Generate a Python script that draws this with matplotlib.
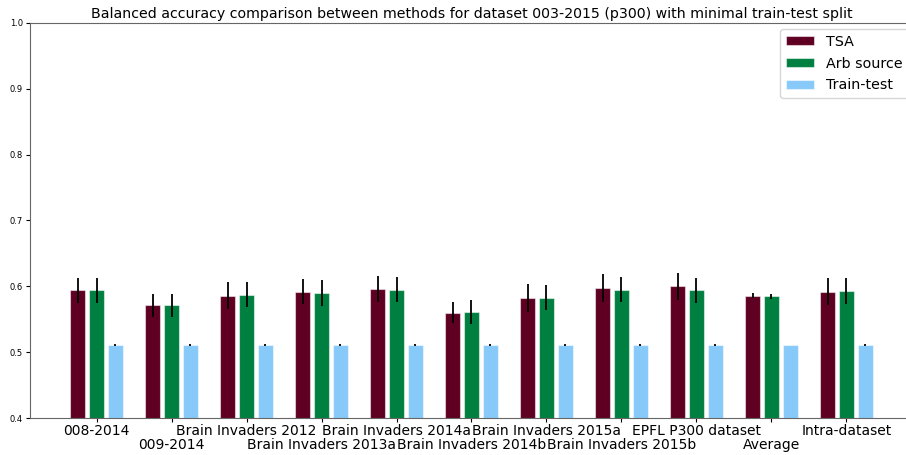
import matplotlib
matplotlib.use("Agg")
import matplotlib.pyplot as plt
import numpy as np

categories = ["008-2014", "009-2014", "Brain Invaders 2012", "Brain Invaders 2013a",
              "Brain Invaders 2014a", "Brain Invaders 2014b", "Brain Invaders 2015a",
              "Brain Invaders 2015b", "EPFL P300 dataset", "Average", "Intra-dataset"]
series_names = ["TSA", "Arb source", "Train-test"]
tsa = [0.594, 0.571, 0.586, 0.592, 0.596, 0.560, 0.582, 0.597, 0.600, 0.586, 0.592]
tsa_err = [0.019, 0.018, 0.020, 0.019, 0.020, 0.016, 0.021, 0.0215, 0.020, 0.004, 0.021]
arb = [0.594, 0.571, 0.587, 0.590, 0.595, 0.561, 0.583, 0.595, 0.594, 0.585, 0.593]
arb_err = [0.019, 0.018, 0.019, 0.020, 0.019, 0.018, 0.0185, 0.0195, 0.019, 0.004, 0.020]
tt = [0.511, 0.511, 0.511, 0.511, 0.511, 0.511, 0.511, 0.511, 0.511, 0.511, 0.511]
tt_err = [0.002, 0.002, 0.002, 0.002, 0.002, 0.002, 0.002, 0.002, 0.002, 0.0, 0.002]
yticks = [0.4, 0.5, 0.6, 0.7, 0.8, 0.9, 1.0]

colors = ["#5f0022", "#008040", "#87cafa"]

fig = plt.figure(figsize=(9.06, 4.55), dpi=100)
ax = fig.add_axes([30/906, 1-418/455, (913-30)/906, (418-23)/455])

x = np.arange(len(categories))
offsets = [-0.25, 0.0, 0.25]
width = 0.2
for vals, errs, off, c, name in zip([tsa, arb, tt], [tsa_err, arb_err, tt_err], offsets, colors, series_names):
    ax.bar(x + off, vals, width, yerr=errs, color=c, label=name,
           edgecolor=(1, 1, 1, 0.5), linewidth=0.8,
           error_kw=dict(ecolor="black", elinewidth=1.3, capsize=0))

ax.set_ylim(0.4, 1.0)
ax.set_xlim(-0.887, len(categories) - 1 + 0.887)
ax.set_yticks(yticks)
ax.set_yticklabels([f"{v:.1f}" for v in yticks], fontsize=6)
ax.set_xticks(x)
ax.set_xticklabels([c if i % 2 == 0 else "\n" + c for i, c in enumerate(categories)],
                   fontsize=10, linespacing=1.05)
ax.tick_params(axis="x", length=3, pad=1)
ax.tick_params(axis="y", length=3, pad=2)
ax.spines["right"].set_visible(False)
for s in ["left", "bottom", "top"]:
    ax.spines[s].set_color("#666666")

fig.text(471.5/906, 1-14/455, "Balanced accuracy comparison between methods for dataset 003-2015 (p300) with minimal train-test split",
         ha="center", va="center", fontsize=10.2)

ax.legend(loc="upper right", bbox_to_anchor=(908/906, 1-29/455), bbox_transform=fig.transFigure,
          fontsize=10.3, handlelength=2.0, handleheight=0.65, borderaxespad=0.0, labelspacing=0.55,
          borderpad=0.4)

fig.savefig("out.png", dpi=100)
